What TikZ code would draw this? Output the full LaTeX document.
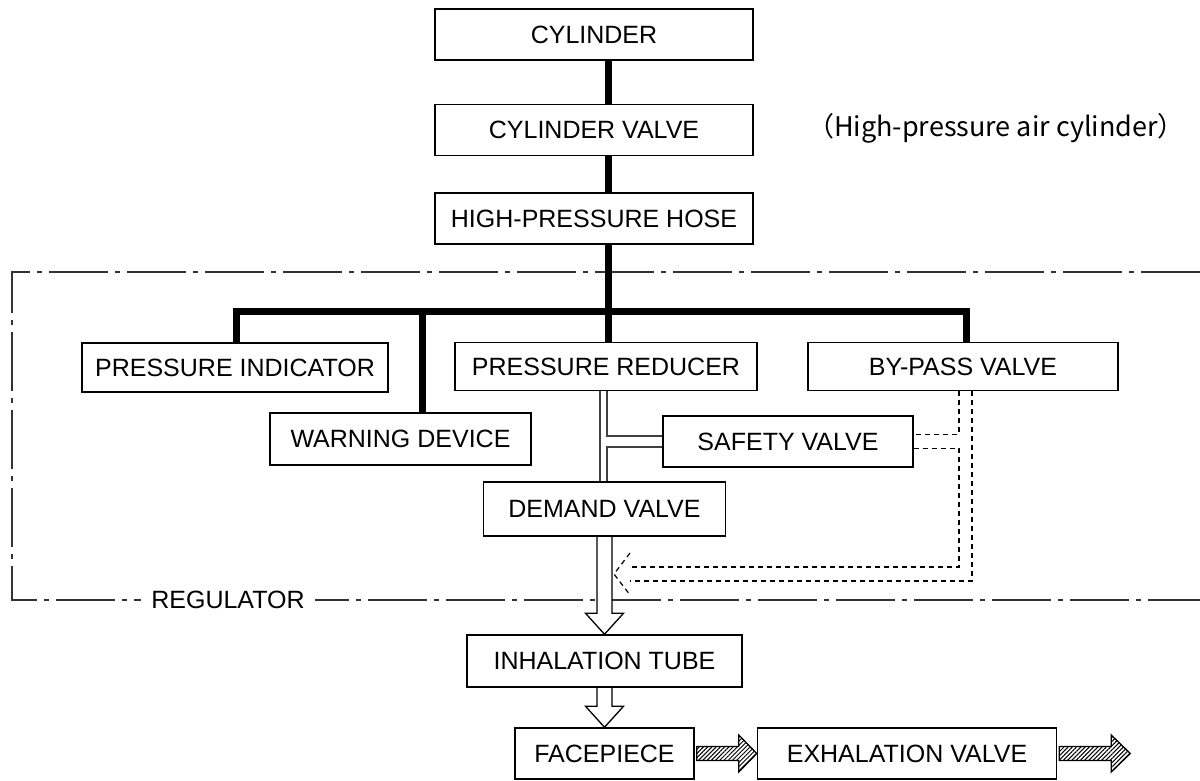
\documentclass[tikz,border=0pt]{standalone}
\usepackage{fontspec}
\setmainfont{Liberation Sans}
\newfontfamily\jpfont{Noto Sans CJK JP}
\usepackage{tikz}
\usetikzlibrary{positioning}
\usetikzlibrary{calc}
\usetikzlibrary{backgrounds}
\usetikzlibrary{patterns.meta}

\begin{document}
\begin{tikzpicture}[x=1pt,y=-1pt,every node/.style={font=\fontsize{25}{30}\selectfont},
	part/.style={draw,line width=1.5pt,minimum height=51pt,inner sep=0pt},
	mainline/.style={line width=7pt},
	pipe/.style={line width=1.5pt,draw=black!75},
	hollow/.style={line width=1.3pt,fill=white},
	hatched/.style={line width=1.3pt,pattern={Lines[angle=45,distance=3pt,line width=1pt]}},
	bypassline/.style={line width=1.2pt,dash pattern=on 5pt off 4pt},
	regline/.style={line width=1.3pt,draw=black!80,dash pattern=on 59pt off 7pt on 5pt off 7pt}]
	\useasboundingbox (0,0) rectangle (1200,780);
	\node[part,minimum width=318pt] (cyl) at (594,34.5) {CYLINDER};
	\node[part,minimum width=318pt,below=43pt of cyl] (valve) {CYLINDER VALVE};
	\node[part,minimum width=318pt,below=36pt of valve] (hose) {HIGH-PRESSURE HOSE};
	\node[font=\jpfont\fontsize{27}{30}\selectfont] (note) at (996,128) {（High-pressure air cylinder）};
	\node[part,minimum width=306pt,minimum height=49pt] (indicator) at (235,367.5) {PRESSURE INDICATOR};
	\node[part,minimum width=302pt,minimum height=48pt] (reducer) at (606,366.5) {PRESSURE REDUCER};
	\node[part,minimum width=310pt,minimum height=48pt] (bypass) at (963,366.5) {BY-PASS VALVE};
	\node[part,minimum width=261pt,minimum height=52pt] (warning) at (400.5,439) {WARNING DEVICE};
	\node[part,minimum width=250pt] (safety) at (788,441.5) {SAFETY VALVE};
	\node[part,minimum width=242pt,minimum height=54pt] (demand) at (604.5,509) {DEMAND VALVE};
	\node[part,minimum width=275pt,minimum height=52pt] (inhal) at (604.5,661) {INHALATION TUBE};
	\node[part,minimum width=179pt] (face) at (604.5,753.5) {FACEPIECE};
	\node[part,minimum width=299pt,right=62pt of face] (exhal) {EXHALATION VALVE};
	\node[fill=white,inner xsep=10pt,inner ysep=2pt] (reg) at (228,600) {REGULATOR};

	\coordinate (tk) at (608,311);
	\coordinate (tl) at (236,311);
	\coordinate (tr) at (966,311);
	\coordinate (wd) at (422,311);
	\draw[mainline] (cyl.south -| tk) -- (valve.north -| tk);
	\draw[mainline] (valve.south -| tk) -- (hose.north -| tk);
	\draw[mainline] (hose.south -| tk) -- (reducer.north -| tk);
	\draw[mainline] (indicator.north -| tl) -- (tl) -- (tr) -- (bypass.north -| tr);
	\draw[mainline] (wd) -- (warning.north -| wd);

	\coordinate (pl) at (600,0);
	\coordinate (pr) at (607,0);
	\draw[pipe] (reducer.south -| pl) -- (demand.north -| pl);
	\draw[pipe] (reducer.south -| pr) |- ([yshift=5.5pt]safety.west);
	\draw[pipe] ([yshift=-5.5pt]safety.west) -| (demand.north -| pr);

	\coordinate (va) at (959,0);
	\coordinate (vb) at (972,0);
	\coordinate (ha) at (630,567);
	\coordinate (hb) at (630,581);
	\coordinate (hd) at (630,574);
	\coordinate (dtip) at (614,574);
	\draw[bypassline] (bypass.south -| va) |- ([yshift=7pt]safety.east);
	\draw[bypassline] ([yshift=-7pt]safety.east) -| (va |- ha) -- (ha);
	\draw[bypassline] (bypass.south -| vb) |- (hb);
	\draw[bypassline] ([yshift=21pt]hd) -- (dtip) -- ([yshift=-21pt]hd);

	\coordinate (vent) at ([xshift=73pt]exhal.east);
	\draw[hatched] ([xshift=2pt,yshift=7pt]face.east) -- ([xshift=-18pt,yshift=7pt]exhal.west) -- ([xshift=-18pt,yshift=18.5pt]exhal.west) -- (exhal.west) -- ([xshift=-18pt,yshift=-18.5pt]exhal.west) -- ([xshift=-18pt,yshift=-7pt]exhal.west) -- ([xshift=2pt,yshift=-7pt]face.east) -- cycle;
	\draw[hatched] ([xshift=2pt,yshift=7pt]exhal.east) -- ([xshift=-19pt,yshift=7pt]vent) -- ([xshift=-19pt,yshift=18.5pt]vent) -- (vent) -- ([xshift=-19pt,yshift=-18.5pt]vent) -- ([xshift=-19pt,yshift=-7pt]vent) -- ([xshift=2pt,yshift=-7pt]exhal.east) -- cycle;

	\begin{scope}[on background layer]
		\draw[regline] (1200,272) -- (12,272) -- (12,600) -- (1200,600);
		\draw[hollow] ([xshift=-7.5pt]demand.south) -- ([xshift=-7.5pt,yshift=21pt]inhal.north) -- ([xshift=-19pt,yshift=21pt]inhal.north) -- (inhal.north) -- ([xshift=19pt,yshift=21pt]inhal.north) -- ([xshift=7.5pt,yshift=21pt]inhal.north) -- ([xshift=7.5pt]demand.south);
		\draw[hollow] ([xshift=-7.5pt]inhal.south) -- ([xshift=-7.5pt,yshift=21pt]face.north) -- ([xshift=-19pt,yshift=21pt]face.north) -- (face.north) -- ([xshift=19pt,yshift=21pt]face.north) -- ([xshift=7.5pt,yshift=21pt]face.north) -- ([xshift=7.5pt]inhal.south);
	\end{scope}
\end{tikzpicture}
\end{document}
